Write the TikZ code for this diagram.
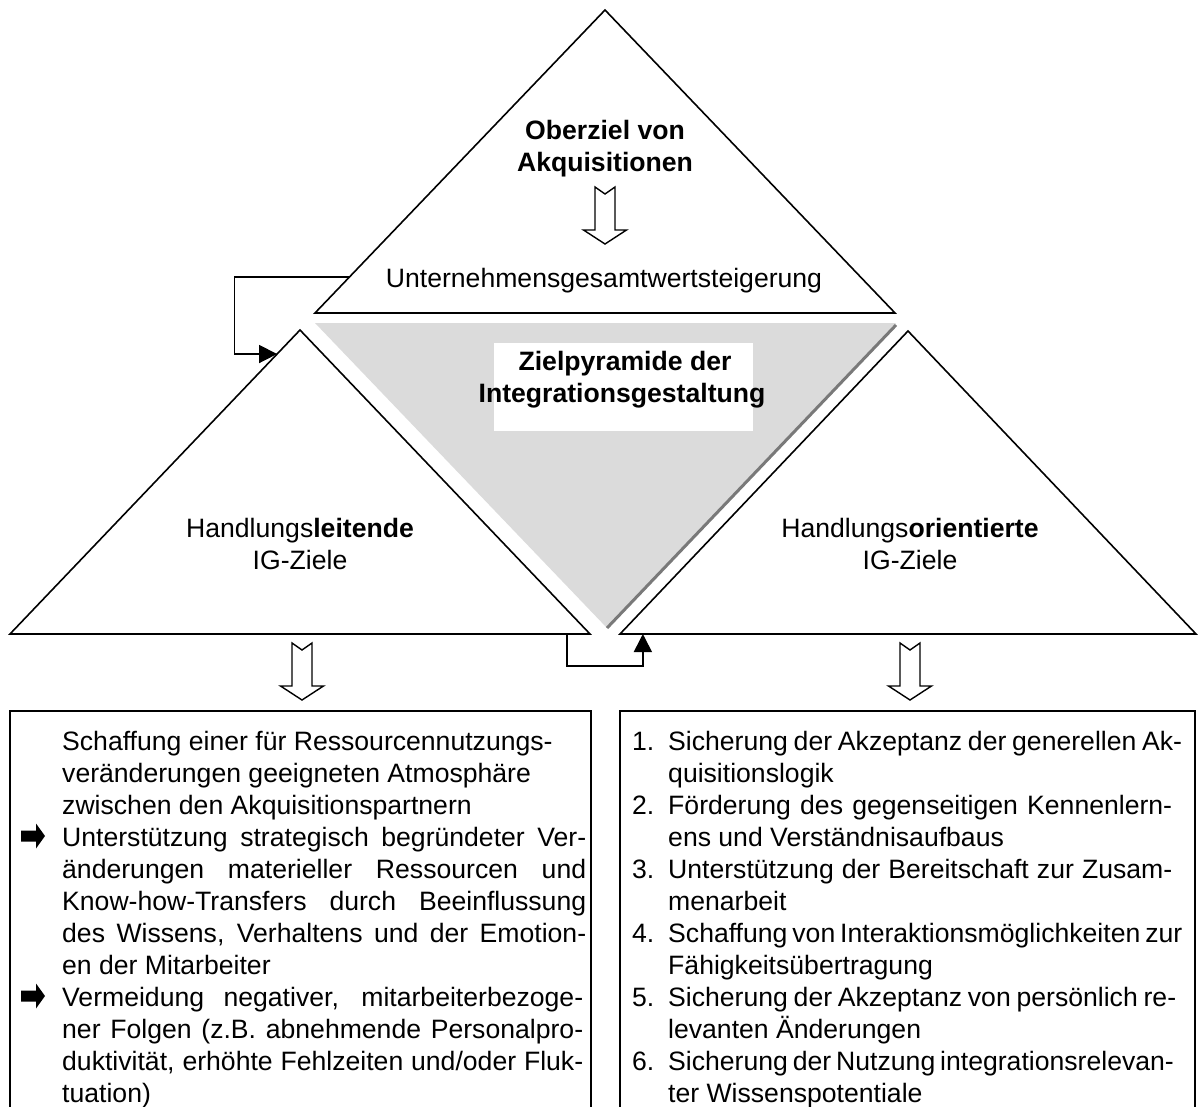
\documentclass[tikz,border=0pt]{standalone}
\usepackage{fontspec}
\setmainfont{Liberation Sans}
\usetikzlibrary{arrows.meta,calc}
% justified lines of the two lists
\newcommand{\jline}[2]{\makebox[#1pt][s]{#2}}
\begin{document}
\begin{tikzpicture}[x=1pt,y=-1pt,
  txt/.style={inner sep=0pt, font=\fontsize{26.6}{32}\selectfont},
  btxt/.style={inner sep=0pt, font=\fontsize{26.6}{32}\selectfont\bfseries},
  tri/.style={draw=black, line width=1.6pt, line join=miter},
  conn/.style={draw=black, line width=1.6pt, -{Triangle[length=18pt,width=18pt]}},
  boxline/.style={draw=black, line width=1.6pt},
  blockarrow/.pic={
    \draw[line width=1.4pt, fill=white, line join=miter]
      (-10,0) -- (0,7) -- (10,0) -- (10,43) -- (21.5,43) -- (0,57)
      -- (-21.5,43) -- (-10,43) -- cycle;
  },
  bulletarrow/.pic={
    \fill[black] (0,-5.5) -- (15,-5.5) -- (15,-12.5) -- (24,0)
      -- (15,12.5) -- (15,5.5) -- (0,5.5) -- cycle;
  }]
\useasboundingbox (0,0) rectangle (1198,1107);

% corner points of the triangles
\coordinate (tA) at (605,10);  \coordinate (tL) at (315,313); \coordinate (tR) at (895,313);
\coordinate (lA) at (300,330); \coordinate (lL) at (10,634);  \coordinate (lR) at (590,634);
\coordinate (rA) at (908,331); \coordinate (rL) at (620,634); \coordinate (rR) at (1196,634);

% grey inverted pyramid with its darker right edge
\fill[gray!28] (315,323) -- (896,323) -- (607,628) -- cycle;
\draw[gray!95!black, line width=3pt] (896,325) -- (607,628);

% the three triangles
\draw[tri] (tA) -- (tL) -- (tR) -- cycle;
\draw[tri] (lA) -- (lL) -- (lR) -- cycle;
\draw[tri] (rA) -- (rL) -- (rR) -- cycle;

% connectors between the triangles
\coordinate (c1a) at ($(tA)!0.881!(tL)$);
\coordinate (c1b) at ($(lA)!0.079!(lL)$);
\draw[conn] (c1a) -- ++(-115,0) |- (c1b);
\coordinate (c2a) at ($(lL)!0.960!(lR)$);
\coordinate (c2b) at ($(rL)!0.0397!(rR)$);
\draw[conn] (c2a) -- ++(0,32) -| (c2b);

% texts inside the triangles
\node[btxt, anchor=base] (ob1) at (605,140) {Oberziel von};
\node[btxt, anchor=base] (ob2) at (605,172) {Akquisitionen};
\pic at (605,187) {blockarrow};
\node[txt, anchor=base] (ug) at (604,287) {Unternehmensgesamtwertsteigerung};

\node[fill=white, minimum width=259pt, minimum height=88pt, inner sep=0pt] (zbg) at (623,387) {};
\node[btxt, anchor=base] (zp1) at (625,370) {Zielpyramide der};
\node[btxt, anchor=base] (zp2) at (622,402) {Integrationsgestaltung};

\node[txt, anchor=base] (hl1) at (300,537) {Handlungs\textbf{leitende}};
\node[txt, anchor=base] (hl2) at (300,569) {IG-Ziele};
\node[txt, anchor=base] (ho1) at (910,537) {Handlungs\textbf{orientierte}};
\node[txt, anchor=base] (ho2) at (910,569) {IG-Ziele};

% arrows down to the lists
\pic at (302,643) {blockarrow};
\pic at (910,643) {blockarrow};

% list frames, open at the bottom
\draw[boxline] (10,1110) -- (10,711) -- (591,711) -- (591,1110);
\draw[boxline] (620,1110) -- (620,711) -- (1195,711) -- (1195,1110);

% left list
\node[txt, anchor=base west] (l1) at (62,750) {Schaffung einer für Ressourcennutzungs-};
\node[txt, anchor=base west] (l2) at (62,782) {veränderungen geeigneten Atmosphäre};
\node[txt, anchor=base west] (l3) at (62,814) {zwischen den Akquisitionspartnern};
\pic at (21,836) {bulletarrow};
\node[txt, anchor=base west] (l4) at (62,846) {\jline{524}{Unterstützung strategisch begründeter Ver-}};
\node[txt, anchor=base west] (l5) at (62,878) {\jline{524}{änderungen materieller Ressourcen und}};
\node[txt, anchor=base west] (l6) at (62,910) {\jline{524}{Know-how-Transfers durch Beeinflussung}};
\node[txt, anchor=base west] (l7) at (62,942) {\jline{524}{des Wissens, Verhaltens und der Emotion-}};
\node[txt, anchor=base west] (l8) at (62,974) {en der Mitarbeiter};
\pic at (21,996) {bulletarrow};
\node[txt, anchor=base west] (l9) at (62,1006) {\jline{521}{Vermeidung negativer, mitarbeiterbezoge-}};
\node[txt, anchor=base west] (l10) at (62,1038) {\jline{521}{ner Folgen (z.B. abnehmende Personalpro-}};
\node[txt, anchor=base west] (l11) at (62,1070) {\jline{521}{duktivität, erhöhte Fehlzeiten und/oder Fluk-}};
\node[txt, anchor=base west] (l12) at (62,1102) {tuation)};

% right list
\foreach \n/\y in {1/750,2/814,3/878,4/942,5/1006,6/1070}
  \node[txt, anchor=base west] (rn\n) at (632,\y) {\n.};
\node[txt, anchor=base west] (r1) at (668,750) {\jline{514}{Sicherung der Akzeptanz der generellen Ak-}};
\node[txt, anchor=base west] (r2) at (668,782) {quisitionslogik};
\node[txt, anchor=base west] (r3) at (668,814) {\jline{504}{Förderung des gegenseitigen Kennenlern-}};
\node[txt, anchor=base west] (r4) at (668,846) {ens und Verständnisaufbaus};
\node[txt, anchor=base west] (r5) at (668,878) {\jline{504}{Unterstützung der Bereitschaft zur Zusam-}};
\node[txt, anchor=base west] (r6) at (668,910) {menarbeit};
\node[txt, anchor=base west] (r7) at (668,942) {\jline{514}{Schaffung von Interaktionsmöglichkeiten zur}};
\node[txt, anchor=base west] (r8) at (668,974) {Fähigkeitsübertragung};
\node[txt, anchor=base west] (r9) at (668,1006) {\jline{508}{Sicherung der Akzeptanz von persönlich re-}};
\node[txt, anchor=base west] (r10) at (668,1038) {levanten Änderungen};
\node[txt, anchor=base west] (r11) at (668,1070) {\jline{504}{Sicherung der Nutzung integrationsrelevan-}};
\node[txt, anchor=base west] (r12) at (668,1102) {ter Wissenspotentiale};
\end{tikzpicture}
\end{document}
